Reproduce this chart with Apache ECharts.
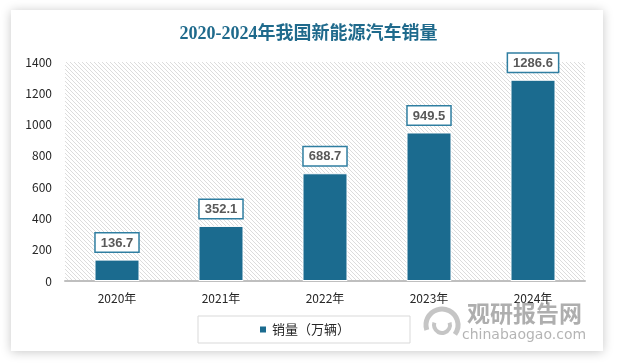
<!DOCTYPE html>
<html><head><meta charset="utf-8">
<script src="https://cdn.jsdelivr.net/npm/echarts@6/dist/echarts.min.js"></script>
<style>html,body{margin:0;padding:0;background:#fff;}#c{width:617px;height:364px;}</style>
</head><body><div id="c"></div>
<script>
var categories = ['2020年','2021年','2022年','2023年','2024年'];
var sales = [136.7, 352.1, 688.7, 949.5, 1286.6];
var seriesName = '销量（万辆）';
var titleText = '2020-2024年我国新能源汽车销量';

var pc = document.createElement('canvas');
pc.width = 4; pc.height = 4;
var g = pc.getContext('2d');
g.fillStyle = '#ffffff'; g.fillRect(0,0,4,4);
g.strokeStyle = '#dcdcdc'; g.lineWidth = 1;
for (var k = -4; k <= 8; k += 4) {
  g.beginPath(); g.moveTo(k, 0); g.lineTo(k + 4, 4); g.stroke();
}

var chart = echarts.init(document.getElementById('c'), null, {renderer: 'canvas'});
chart.setOption({
  backgroundColor: '#ffffff',
  animation: false,
  title: {
    text: titleText, left: 'center', top: 20,
    textStyle: {fontFamily: '"Liberation Serif","Noto Sans CJK SC",serif', fontSize: 18, fontWeight: 'bold', color: '#1f6a8c'}
  },
  graphic: [
    {type: 'rect', z: -10, silent: true, shape: {x: 11, y: 10, width: 592, height: 341},
     style: {fill: '#ffffff', shadowBlur: 10, shadowColor: 'rgba(0,0,0,0.22)', shadowOffsetX: 0, shadowOffsetY: 1}},
    {type: 'text', z: 5, left: 467, top: 302, style: {text: '观研报告网', fill: 'rgba(130,130,130,0.65)', font: 'bold 23px "Noto Sans CJK SC"'}},
    {type: 'text', z: 5, left: 462, top: 328, style: {text: 'chinabaogao.com', fill: 'rgba(140,140,140,0.65)', font: '14px "DejaVu Sans"'}},
    {type: 'arc', z: 5, shape: {cx: 442, cy: 325, r: 16, startAngle: Math.PI * 0.9, endAngle: Math.PI * 2.2}, style: {fill: 'none', stroke: 'rgba(150,150,150,0.55)', lineWidth: 5}},
    {type: 'arc', z: 5, shape: {cx: 442, cy: 325, r: 8, startAngle: Math.PI * 1.9, endAngle: Math.PI * 3.1}, style: {fill: 'none', stroke: 'rgba(150,150,150,0.55)', lineWidth: 4}}
  ],
  grid: {left: 65, right: 32, top: 62, bottom: 83, show: true, borderWidth: 0,
    backgroundColor: {image: pc, repeat: 'repeat'}},
  legend: {
    data: [seriesName], bottom: 21, left: 198, width: 216, itemWidth: 8, itemHeight: 8,
    icon: 'rect', padding: [7, 60, 7, 60], borderColor: '#d9d9d9', borderWidth: 1,
    textStyle: {fontSize: 13, color: '#262626', fontFamily: '"Noto Sans CJK SC"'}
  },
  xAxis: {
    type: 'category', data: categories,
    axisLine: {lineStyle: {color: '#bfbfbf', width: 2}},
    axisTick: {show: false},
    axisLabel: {color: '#262626', fontSize: 12, margin: 11, fontFamily: '"Noto Sans CJK SC"'}
  },
  yAxis: {
    type: 'value', min: 0, max: 1400, interval: 200,
    axisLine: {show: false}, axisTick: {show: false}, splitLine: {show: false},
    axisLabel: {color: '#262626', fontSize: 12, margin: 13, fontFamily: '"Noto Sans CJK SC"',
      formatter: function (v) { return String(v); }}
  },
  series: [{
    name: seriesName, type: 'bar', data: sales, barWidth: 45,
    itemStyle: {color: '#1b6b8f', borderColor: '#ffffff', borderWidth: 1},
    label: {
      show: true, position: 'top', distance: 8,
      color: '#595959', fontSize: 13, fontWeight: 'bold', fontFamily: '"Liberation Sans","Noto Sans CJK SC"',
      backgroundColor: '#ffffff', borderColor: '#2f7ea1', borderWidth: 1.5, padding: [3, 5, 2, 5]
    }
  }]
});
</script></body></html>
